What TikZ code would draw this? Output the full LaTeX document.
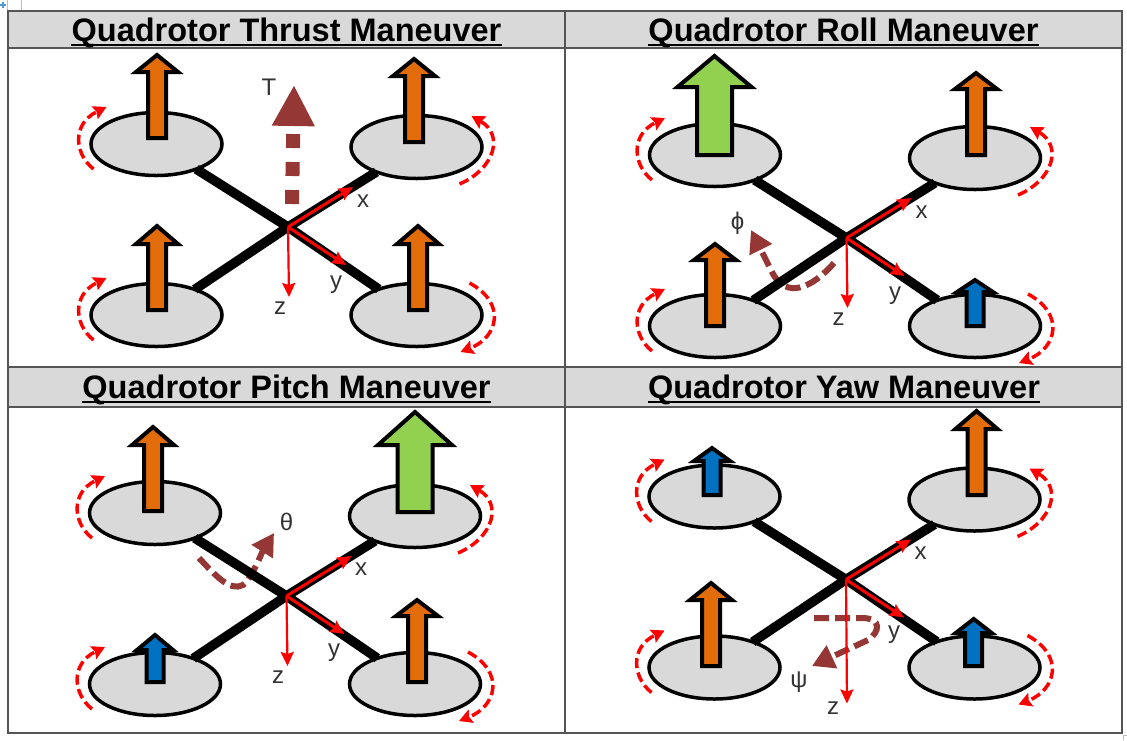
\documentclass[tikz,border=0pt]{standalone}
\usepackage{fontspec}
\setmainfont{Liberation Sans}
\usetikzlibrary{shapes.geometric, arrows.meta}
\definecolor{rotorgray}{HTML}{D9D9D9}
\definecolor{liftorange}{HTML}{E36C0A}
\definecolor{liftgreen}{HTML}{92D050}
\definecolor{liftblue}{HTML}{0070C0}
\definecolor{turnmaroon}{HTML}{953735}
\definecolor{gridgray}{HTML}{555555}
\definecolor{labelgray}{HTML}{333333}
\tikzset{
	rotor/.style={draw=black, line width=3.5pt, fill=rotorgray, ellipse, minimum width=131pt, minimum height=63pt, inner sep=0pt, outer sep=0pt},
	arm/.style={black, line width=9.5pt},
	axis/.style={red, line width=3pt, -{Stealth[length=14pt, width=13pt, inset=2pt]}},
	spin/.style={red, line width=3.5pt, dash pattern=on 10pt off 4.5pt, -{Stealth[length=13pt, width=14pt, inset=2pt]}},
	turn/.style={turnmaroon, line width=6pt, dash pattern=on 15pt off 6pt, -{Triangle[length=22pt, width=24pt]}},
	axislabel/.style={text=labelgray, font=\fontsize{24}{24}\selectfont, inner sep=0pt},
	title/.style={font=\fontsize{32.5}{32.5}\selectfont\bfseries, anchor=base, inner sep=0pt},
	header/.style={fill=rotorgray, draw=gridgray, line width=1.5pt},
	lift/.style={draw=black, line width=4pt, miter limit=10},
}
% x, tip, head base, bottom, head half width, shaft half width, colour
\newcommand{\liftarrow}[7]{
	\draw[lift, fill=#7] (#1-#6+0.5,#4-0.5) -- (#1-#6+0.5,#3-0.5) -- (#1-#5-2,#3-0.5) -- (#1,#2+1) -- (#1+#5+2,#3-0.5) -- (#1+#6-0.5,#3-0.5) -- (#1+#6-0.5,#4-0.5) -- cycle;
}
% rotors, arms, spin arrows and axes of one panel; #1 is the y of the z tip
\newcommand{\quadframe}[1]{
	\coordinate (hub) at (288,227);
	\node[rotor] (tl) at (156.5,144) {};
	\node[rotor] (tr) at (416.5,147) {};
	\node[rotor] (bl) at (156.5,315) {};
	\node[rotor] (br) at (416.5,315) {};
	\draw[arm] (hub) -- (tl);
	\draw[arm] (hub) -- (tr);
	\draw[arm] (hub) -- (bl);
	\draw[arm] (hub) -- (br);
	\draw[spin, shift={(tl)}] (-63,25) .. controls (-82,10) and (-85,-20) .. (-50,-37);
	\draw[spin, shift={(bl)}] (-63,25) .. controls (-82,10) and (-85,-20) .. (-50,-37);
	\draw[spin, shift={(tr)}] (43,37) .. controls (78,22) and (88,-12) .. (55,-31);
	\draw[spin, shift={(br)}] (53,-32) .. controls (90,-12) and (82,22) .. (44,37);
	\coordinate (xtip) at (353,187);
	\coordinate (ytip) at (346,265);
	\coordinate (ztip) at (289,#1);
	\draw[axis] (hub) -- (xtip);
	\draw[axis] (hub) -- (ytip);
	\draw[axis, line width=2.2pt] (hub) -- (ztip);
}
\begin{document}
\begin{tikzpicture}[x=1pt, y=-1pt]
	\useasboundingbox (0,0) rectangle (1127,740);
	\fill[white] (0,0) rectangle (1127,740);

	% window marks
	\draw[black!25, line width=1pt] (7.5,0) -- (7.5,11) (21,0) -- (21,11);
	\draw[liftblue!70, line width=1.5pt] (0,5) -- (6,5) (3,2) -- (3,8);
	\draw[black!25, line width=1pt] (1127,735.5) -- (1123.5,735.5) -- (1123.5,740);

	% table
	\draw[header] (8,11) rectangle (565,48);
	\draw[header] (565,11) rectangle (1122,48);
	\draw[header] (8,367) rectangle (565,407);
	\draw[header] (565,367) rectangle (1122,407);
	\draw[gridgray, line width=1.5pt] (8,48) -- (8,367) (565,48) -- (565,367) (1122,48) -- (1122,367);
	\draw[gridgray, line width=1.5pt] (8,407) -- (8,733) -- (1122,733) -- (1122,407) (565,407) -- (565,733);

	% titles
	\node[title] (thrusttitle) at (286.5,41) {Quadrotor Thrust Maneuver};
	\node[title] (rolltitle) at (843.5,41) {Quadrotor Roll Maneuver};
	\node[title] (pitchtitle) at (286.5,398) {Quadrotor Pitch Maneuver};
	\node[title] (yawtitle) at (844,398) {Quadrotor Yaw Maneuver};
	\foreach \t in {thrusttitle, rolltitle, pitchtitle, yawtitle}
		\draw[black, line width=2pt] ([yshift=-4pt]\t.base west) -- ([yshift=-4pt]\t.base east);

	% thrust
	\draw[turnmaroon, line width=14pt, dash pattern=on 14pt off 14pt, -{Triangle[length=41pt, width=40pt]}] (292,204) -- (294,85);
	\begin{scope}[name prefix=th-]
		\quadframe{297}
	\end{scope}
	\liftarrow{157}{54}{72.5}{138.5}{19}{9.5}{liftorange}
	\liftarrow{414}{58}{76.5}{142.5}{19}{9.5}{liftorange}
	\liftarrow{157}{225}{244.5}{310.5}{19}{9.5}{liftorange}
	\liftarrow{418}{225}{244.5}{310.5}{19}{9.5}{liftorange}
	\node[axislabel] (thT) at (269,87) {T};
	\node[axislabel] (thx) at (363,201) {x};
	\node[axislabel] (thy) at (336,285) {y};
	\node[axislabel] (thz) at (280,308) {z};

	% roll
	\draw[turn] (834,263) .. controls (812,288) and (786,300) .. (772,272) -- (751,230);
	\begin{scope}[shift={(558.5,11)}, name prefix=ro-]
		\quadframe{297}
	\end{scope}
	\liftarrow{714.5}{55}{87.5}{155.5}{35}{18}{liftgreen}
	\liftarrow{976}{72}{89.5}{155.5}{19}{9.5}{liftorange}
	\liftarrow{715}{243}{260.5}{326.5}{19}{9.5}{liftorange}
	\liftarrow{975}{279}{292.5}{326.5}{16}{9}{liftblue}
	\node[axislabel] (rophi) at (737.5,223) {ϕ};
	\node[axislabel] (rox) at (921.7,212) {x};
	\node[axislabel] (roy) at (895,296) {y};
	\node[axislabel] (roz) at (838.6,319) {z};

	% pitch
	\draw[turn] (199,558) .. controls (215,575) and (230,592) .. (243,585) .. controls (252,578) and (262,552) .. (274,533);
	\begin{scope}[shift={(-1.5,369)}, name prefix=pi-]
		\quadframe{297}
	\end{scope}
	\liftarrow{153}{426}{445.5}{511.5}{19}{9.5}{liftorange}
	\liftarrow{415}{411}{445.5}{512.5}{35}{18}{liftgreen}
	\liftarrow{155}{634}{650.5}{682.5}{16}{9}{liftblue}
	\liftarrow{417}{599}{616.5}{682.5}{19}{9.5}{liftorange}
	\node[axislabel] (pitheta) at (286.5,522) {θ};
	\node[axislabel] (pix) at (361,569) {x};
	\node[axislabel] (piy) at (334,653) {y};
	\node[axislabel] (piz) at (278,677) {z};

	% yaw
	\draw[turn] (814,618) -- (862,618) .. controls (882,618) and (880,632) .. (868,640) -- (812,666);
	\begin{scope}[shift={(558,352.5)}, name prefix=ya-]
		\quadframe{351}
	\end{scope}
	\liftarrow{712}{447}{461.5}{495.5}{16}{9}{liftblue}
	\liftarrow{976.5}{410}{429.5}{495.5}{19}{9.5}{liftorange}
	\liftarrow{711}{582}{600.5}{666.5}{19}{9.5}{liftorange}
	\liftarrow{973.7}{618}{633.5}{666.5}{16}{9}{liftblue}
	\node[axislabel] (yapsi) at (799,682) {ψ};
	\node[axislabel] (yax) at (920.6,553) {x};
	\node[axislabel] (yay) at (894,635) {y};
	\node[axislabel] (yaz) at (833,708) {z};
\end{tikzpicture}
\end{document}
